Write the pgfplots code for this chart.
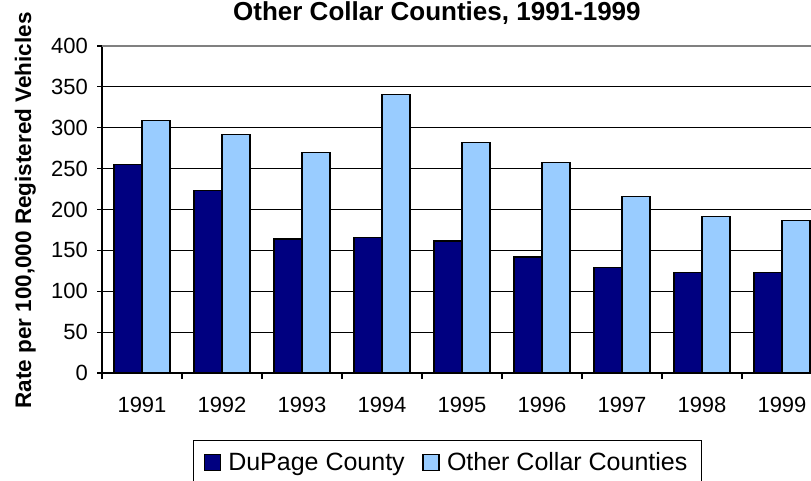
\documentclass[border=0pt]{standalone}
\usepackage{fontspec}
\setmainfont{Liberation Sans}
\usepackage{pgfplots}
\pgfplotsset{compat=1.18}
\definecolor{dupage}{RGB}{0,0,128}
\definecolor{collar}{RGB}{153,204,255}
\begin{document}
\begin{tikzpicture}[x=1pt,y=1pt]
\path[use as bounding box] (0,0) rectangle (811,481);
\begin{axis}[
  at={(102pt,108pt)}, anchor=south west,
  scale only axis, width=720pt, height=327pt,
  xmin=-0.5, xmax=8.5, ymin=0, ymax=400,
  ybar=0pt, bar width=28pt,
  axis x line*=bottom, axis y line*=left,
  axis line style={black, line width=1.2pt},
  xtick={0,...,8},
  xticklabels={1991,1992,1993,1994,1995,1996,1997,1998,1999},
  xtick style={draw=none},
  minor xtick={-0.5,0.5,...,8.5},
  minor x tick style={draw=black, line width=1.2pt},
  minor tick length=6pt,
  ytick={0,50,...,400},
  ytick style={draw=black, line width=1.2pt},
  major tick length=5pt,
  tick align=outside,
  ymajorgrids, grid style={black, line width=1.2pt},
  /pgf/number format/assume math mode=true,
  ticklabel style={font=\fontsize{22}{26}\selectfont},
  yticklabel style={inner sep=0pt, xshift=-9pt},
  xticklabel style={inner sep=0pt, yshift=-19pt},
  legend style={draw=black, line width=1.2pt, at={(0.12639,-0.204)}, anchor=north west,
    legend columns=2, font=\fontsize{25}{30}\selectfont,
    inner xsep=10pt, inner ysep=9pt,
    nodes={inner xsep=4.5pt, inner ysep=3pt},
    /tikz/every odd column/.append style={column sep=3pt},
    /tikz/every even column/.append style={column sep=13pt}},
  legend image code/.code={\draw[#1, line width=1.2pt] (0pt,-8pt) rectangle (16pt,8pt);},
]
\addplot[fill=dupage, draw=black, line width=1.2pt] coordinates {
 (0,255) (1,223) (2,164) (3,166) (4,161.5) (5,142) (6,129.5) (7,122.5) (8,122.5)};
\addplot[fill=collar, draw=black, line width=1.2pt] coordinates {
 (0,309) (1,292) (2,270) (3,341) (4,282) (5,257) (6,216) (7,191) (8,186.5)};
\legend{DuPage County, Other Collar Counties}
\draw[gray, line width=1.2pt] (axis cs:-0.5,400) -- (axis cs:8.5,400);
\end{axis}
\node[anchor=base west, font=\bfseries\fontsize{26}{31}\selectfont, inner sep=0pt] at (233,460) {Other Collar Counties, 1991-1999};
\node[anchor=base, rotate=90, font=\bfseries\fontsize{22.5}{27}\selectfont, inner sep=0pt] at (31,270.5) {Rate per 100,000 Registered Vehicles};
\end{tikzpicture}
\end{document}
